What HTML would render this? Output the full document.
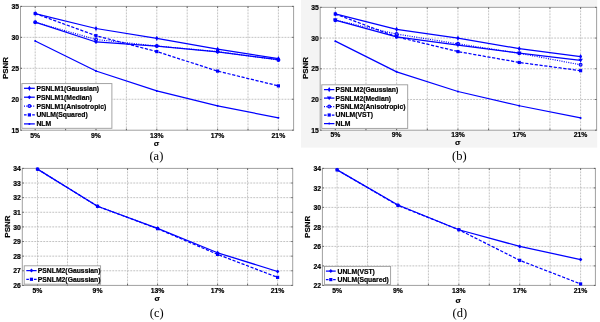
<!DOCTYPE html>
<html><head><meta charset="utf-8"><style>
html,body{margin:0;padding:0;background:#fff;}
body{width:600px;height:322px;overflow:hidden;}
svg{display:block;will-change:transform;}
text{font-family:"Liberation Sans",sans-serif;font-weight:bold;fill:#000;stroke:#000;stroke-width:0.2px;}
.tk{font-size:6.8px;}
.lg{font-size:6.8px;}
.yl{font-size:8px;}
.sg{font-size:8px;}
.cp{font-family:"Liberation Serif",serif;font-weight:normal;font-size:12.5px;fill:#000;stroke:none;}
</style></head><body>
<svg width="600" height="322" viewBox="0 0 600 322">
<rect width="600" height="322" fill="#fff"/>
<rect x="20.5" y="6.4" width="273.1" height="123.8" fill="#fff"/>
<path d="M35.2 6.4V130.2M65.6 6.4V130.2M96 6.4V130.2M126.4 6.4V130.2M156.8 6.4V130.2M187.2 6.4V130.2M217.6 6.4V130.2M248 6.4V130.2M278.4 6.4V130.2M20.5 99.25H293.6M20.5 68.3H293.6M20.5 37.35H293.6" stroke="#bcbcbc" stroke-width="0.9" stroke-dasharray="1.9 1.1" fill="none"/>
<rect x="20.5" y="6.4" width="273.1" height="123.8" fill="none" stroke="#a0a0a0" stroke-width="1"/>
<path d="M35.2 130.2v-1.5M35.2 6.4v1.5M65.6 130.2v-1.5M65.6 6.4v1.5M96 130.2v-1.5M96 6.4v1.5M126.4 130.2v-1.5M126.4 6.4v1.5M156.8 130.2v-1.5M156.8 6.4v1.5M187.2 130.2v-1.5M187.2 6.4v1.5M217.6 130.2v-1.5M217.6 6.4v1.5M248 130.2v-1.5M248 6.4v1.5M278.4 130.2v-1.5M278.4 6.4v1.5M20.5 130.2h1.5M293.6 130.2h-1.5M20.5 99.25h1.5M293.6 99.25h-1.5M20.5 68.3h1.5M293.6 68.3h-1.5M20.5 37.35h1.5M293.6 37.35h-1.5M20.5 6.4h1.5M293.6 6.4h-1.5" stroke="#555" stroke-width="0.9" fill="none"/>
<path d="M35.2 13.52L96 28.5L156.8 38.34L217.6 49.23L278.4 58.71" stroke="#0000ff" stroke-width="1.25" fill="none" stroke-linejoin="round"/>
<path d="M35.2 10.92L36.7 13.52L35.2 16.12L33.7 13.52Z" fill="#0000ff"/>
<path d="M96 25.9L97.5 28.5L96 31.1L94.5 28.5Z" fill="#0000ff"/>
<path d="M156.8 35.74L158.3 38.34L156.8 40.94L155.3 38.34Z" fill="#0000ff"/>
<path d="M217.6 46.63L219.1 49.23L217.6 51.83L216.1 49.23Z" fill="#0000ff"/>
<path d="M278.4 56.11L279.9 58.71L278.4 61.31L276.9 58.71Z" fill="#0000ff"/>
<path d="M35.2 22.18L96 41.99L156.8 46.02L217.6 51.9L278.4 59.63" stroke="#0000ff" stroke-width="1.25" fill="none" stroke-linejoin="round"/>
<path d="M35.2 20.18L37 22.18L35.2 24.18L33.4 22.18Z" fill="#0000ff"/>
<path d="M96 39.99L97.8 41.99L96 43.99L94.2 41.99Z" fill="#0000ff"/>
<path d="M156.8 44.02L158.6 46.02L156.8 48.02L155 46.02Z" fill="#0000ff"/>
<path d="M217.6 49.9L219.4 51.9L217.6 53.9L215.8 51.9Z" fill="#0000ff"/>
<path d="M278.4 57.63L280.2 59.63L278.4 61.63L276.6 59.63Z" fill="#0000ff"/>
<path d="M35.2 22.18L96 39.52L156.8 46.02L217.6 51.59L278.4 59.94" stroke="#0000ff" stroke-width="1.2" fill="none" stroke-linejoin="round" stroke-dasharray="1 1.3"/>
<circle cx="35.2" cy="22.18" r="1.4" fill="none" stroke="#0000ff" stroke-width="1.2"/>
<circle cx="96" cy="39.52" r="1.4" fill="none" stroke="#0000ff" stroke-width="1.2"/>
<circle cx="156.8" cy="46.02" r="1.4" fill="none" stroke="#0000ff" stroke-width="1.2"/>
<circle cx="217.6" cy="51.59" r="1.4" fill="none" stroke="#0000ff" stroke-width="1.2"/>
<circle cx="278.4" cy="59.94" r="1.4" fill="none" stroke="#0000ff" stroke-width="1.2"/>
<path d="M35.2 13.52L96 35.68L156.8 51.59L217.6 71.09L278.4 85.88" stroke="#0000ff" stroke-width="1.25" fill="none" stroke-linejoin="round" stroke-dasharray="3.2 1.6"/>
<rect x="33.6" y="11.92" width="3.2" height="3.2" fill="#0000ff"/>
<rect x="94.4" y="34.08" width="3.2" height="3.2" fill="#0000ff"/>
<rect x="155.2" y="49.99" width="3.2" height="3.2" fill="#0000ff"/>
<rect x="216" y="69.49" width="3.2" height="3.2" fill="#0000ff"/>
<rect x="276.8" y="84.28" width="3.2" height="3.2" fill="#0000ff"/>
<path d="M35.2 40.94L96 71.02L156.8 90.96L217.6 105.87L278.4 117.82" stroke="#0000ff" stroke-width="1.25" fill="none" stroke-linejoin="round"/>
<circle cx="35.2" cy="40.94" r="1" fill="#0000ff"/>
<circle cx="96" cy="71.02" r="1" fill="#0000ff"/>
<circle cx="156.8" cy="90.96" r="1" fill="#0000ff"/>
<circle cx="217.6" cy="105.87" r="1" fill="#0000ff"/>
<circle cx="278.4" cy="117.82" r="1" fill="#0000ff"/>
<text x="19.1" y="132.85" text-anchor="end" class="tk">15</text>
<text x="19.1" y="101.9" text-anchor="end" class="tk">20</text>
<text x="19.1" y="70.95" text-anchor="end" class="tk">25</text>
<text x="19.1" y="40" text-anchor="end" class="tk">30</text>
<text x="19.1" y="9.05" text-anchor="end" class="tk">35</text>
<text x="35.2" y="138.2" text-anchor="middle" class="tk">5%</text>
<text x="96" y="138.2" text-anchor="middle" class="tk">9%</text>
<text x="156.8" y="138.2" text-anchor="middle" class="tk">13%</text>
<text x="217.6" y="138.2" text-anchor="middle" class="tk">17%</text>
<text x="278.4" y="138.2" text-anchor="middle" class="tk">21%</text>
<text transform="translate(8 68) rotate(-90)" text-anchor="middle" class="yl">PSNR</text>
<text x="156.4" y="146" text-anchor="middle" class="sg">&#963;</text>
<text x="156.4" y="160" text-anchor="middle" class="cp">(a)</text>
<rect x="21.9" y="83.6" width="90" height="44.7" fill="#fff" stroke="#9a9a9a" stroke-width="0.9"/>
<path d="M24 88.3H34.8" stroke="#0000ff" stroke-width="1.25" fill="none"/>
<path d="M29.4 85.7L30.9 88.3L29.4 90.9L27.9 88.3Z" fill="#0000ff"/>
<text x="36.4" y="90.7" class="lg">PSNLM1(Gaussian)</text>
<path d="M24 97.2H34.8" stroke="#0000ff" stroke-width="1.25" fill="none"/>
<path d="M29.4 95.2L31.2 97.2L29.4 99.2L27.6 97.2Z" fill="#0000ff"/>
<text x="36.4" y="99.6" class="lg">PSNLM1(Median)</text>
<path d="M24 106.1H34.8" stroke="#0000ff" stroke-width="1.2" fill="none" stroke-dasharray="1 1.3"/>
<circle cx="29.4" cy="106.1" r="1.4" fill="none" stroke="#0000ff" stroke-width="1.2"/>
<text x="36.4" y="108.5" class="lg">PSNLM1(Anisotropic)</text>
<path d="M24 114.9H26.6M32.2 114.9H34.8" stroke="#0000ff" stroke-width="1.25" fill="none"/>
<rect x="27.8" y="113.3" width="3.2" height="3.2" fill="#0000ff"/>
<text x="36.4" y="117.3" class="lg">UNLM(Squared)</text>
<path d="M24 123.9H34.8" stroke="#0000ff" stroke-width="1.25" fill="none"/>
<circle cx="29.4" cy="123.9" r="1" fill="#0000ff"/>
<text x="36.4" y="126.3" class="lg">NLM</text>
<rect x="301" y="0" width="296.2" height="147.6" fill="#f4f4f4"/>
<rect x="320.2" y="7.35" width="276.4" height="122.85" fill="#fff"/>
<path d="M335.3 7.35V130.2M365.96 7.35V130.2M396.62 7.35V130.2M427.29 7.35V130.2M457.95 7.35V130.2M488.61 7.35V130.2M519.28 7.35V130.2M549.94 7.35V130.2M580.6 7.35V130.2M320.2 99.49H596.6M320.2 68.77H596.6M320.2 38.06H596.6" stroke="#bcbcbc" stroke-width="0.9" stroke-dasharray="1.9 1.1" fill="none"/>
<rect x="320.2" y="7.35" width="276.4" height="122.85" fill="none" stroke="#a0a0a0" stroke-width="1"/>
<path d="M335.3 130.2v-1.5M335.3 7.35v1.5M365.96 130.2v-1.5M365.96 7.35v1.5M396.62 130.2v-1.5M396.62 7.35v1.5M427.29 130.2v-1.5M427.29 7.35v1.5M457.95 130.2v-1.5M457.95 7.35v1.5M488.61 130.2v-1.5M488.61 7.35v1.5M519.28 130.2v-1.5M519.28 7.35v1.5M549.94 130.2v-1.5M549.94 7.35v1.5M580.6 130.2v-1.5M580.6 7.35v1.5M320.2 130.2h1.5M596.6 130.2h-1.5M320.2 99.49h1.5M596.6 99.49h-1.5M320.2 68.77h1.5M596.6 68.77h-1.5M320.2 38.06h1.5M596.6 38.06h-1.5M320.2 7.35h1.5M596.6 7.35h-1.5" stroke="#555" stroke-width="0.9" fill="none"/>
<path d="M335.3 13.98L396.62 29.34L457.95 38.19L519.28 48.63L580.6 56.55" stroke="#0000ff" stroke-width="1.25" fill="none" stroke-linejoin="round"/>
<path d="M335.3 11.38L336.8 13.98L335.3 16.58L333.8 13.98Z" fill="#0000ff"/>
<path d="M396.62 26.74L398.12 29.34L396.62 31.94L395.12 29.34Z" fill="#0000ff"/>
<path d="M457.95 35.59L459.45 38.19L457.95 40.79L456.45 38.19Z" fill="#0000ff"/>
<path d="M519.28 46.03L520.78 48.63L519.28 51.23L517.78 48.63Z" fill="#0000ff"/>
<path d="M580.6 53.95L582.1 56.55L580.6 59.15L579.1 56.55Z" fill="#0000ff"/>
<path d="M335.3 20.13L396.62 36.83L457.95 45.06L519.28 53.23L580.6 60.36" stroke="#0000ff" stroke-width="1.25" fill="none" stroke-linejoin="round"/>
<path d="M333 18.53L337.6 18.53L335.3 22.23Z" fill="#0000ff"/>
<path d="M394.32 35.23L398.93 35.23L396.62 38.93Z" fill="#0000ff"/>
<path d="M455.65 43.46L460.25 43.46L457.95 47.16Z" fill="#0000ff"/>
<path d="M516.98 51.63L521.58 51.63L519.28 55.33Z" fill="#0000ff"/>
<path d="M578.3 58.76L582.9 58.76L580.6 62.46Z" fill="#0000ff"/>
<path d="M335.3 20.13L396.62 34.07L457.95 43.84L519.28 53.23L580.6 64.78" stroke="#0000ff" stroke-width="1.2" fill="none" stroke-linejoin="round" stroke-dasharray="1 1.3"/>
<circle cx="335.3" cy="20.13" r="1.4" fill="none" stroke="#0000ff" stroke-width="1.2"/>
<circle cx="396.62" cy="34.07" r="1.4" fill="none" stroke="#0000ff" stroke-width="1.2"/>
<circle cx="457.95" cy="43.84" r="1.4" fill="none" stroke="#0000ff" stroke-width="1.2"/>
<circle cx="519.28" cy="53.23" r="1.4" fill="none" stroke="#0000ff" stroke-width="1.2"/>
<circle cx="580.6" cy="64.78" r="1.4" fill="none" stroke="#0000ff" stroke-width="1.2"/>
<path d="M335.3 13.98L396.62 36.83L457.95 51.58L519.28 62.45L580.6 70.68" stroke="#0000ff" stroke-width="1.25" fill="none" stroke-linejoin="round" stroke-dasharray="3.2 1.6"/>
<rect x="333.7" y="12.38" width="3.2" height="3.2" fill="#0000ff"/>
<rect x="395.02" y="35.23" width="3.2" height="3.2" fill="#0000ff"/>
<rect x="456.35" y="49.98" width="3.2" height="3.2" fill="#0000ff"/>
<rect x="517.68" y="60.85" width="3.2" height="3.2" fill="#0000ff"/>
<rect x="579" y="69.08" width="3.2" height="3.2" fill="#0000ff"/>
<path d="M335.3 41.13L396.62 71.85L457.95 91.5L519.28 105.75L580.6 117.91" stroke="#0000ff" stroke-width="1.25" fill="none" stroke-linejoin="round"/>
<circle cx="335.3" cy="41.13" r="1" fill="#0000ff"/>
<circle cx="396.62" cy="71.85" r="1" fill="#0000ff"/>
<circle cx="457.95" cy="91.5" r="1" fill="#0000ff"/>
<circle cx="519.28" cy="105.75" r="1" fill="#0000ff"/>
<circle cx="580.6" cy="117.91" r="1" fill="#0000ff"/>
<text x="318.8" y="132.85" text-anchor="end" class="tk">15</text>
<text x="318.8" y="102.14" text-anchor="end" class="tk">20</text>
<text x="318.8" y="71.42" text-anchor="end" class="tk">25</text>
<text x="318.8" y="40.71" text-anchor="end" class="tk">30</text>
<text x="318.8" y="10" text-anchor="end" class="tk">35</text>
<text x="335.3" y="137" text-anchor="middle" class="tk">5%</text>
<text x="396.62" y="137" text-anchor="middle" class="tk">9%</text>
<text x="457.95" y="137" text-anchor="middle" class="tk">13%</text>
<text x="519.28" y="137" text-anchor="middle" class="tk">17%</text>
<text x="580.6" y="137" text-anchor="middle" class="tk">21%</text>
<text transform="translate(307.8 68) rotate(-90)" text-anchor="middle" class="yl">PSNR</text>
<text x="457.8" y="145.4" text-anchor="middle" class="sg">&#963;</text>
<text x="459.4" y="160" text-anchor="middle" class="cp">(b)</text>
<rect x="321.8" y="84.8" width="85.9" height="43.6" fill="#fff" stroke="#9a9a9a" stroke-width="0.9"/>
<path d="M324 89.6H334.4" stroke="#0000ff" stroke-width="1.25" fill="none"/>
<path d="M329.2 87L330.7 89.6L329.2 92.2L327.7 89.6Z" fill="#0000ff"/>
<text x="335.6" y="92" class="lg">PSNLM2(Gaussian)</text>
<path d="M324 98.1H334.4" stroke="#0000ff" stroke-width="1.25" fill="none"/>
<path d="M326.9 96.5L331.5 96.5L329.2 100.2Z" fill="#0000ff"/>
<text x="335.6" y="100.5" class="lg">PSNLM2(Median)</text>
<path d="M324 106.6H334.4" stroke="#0000ff" stroke-width="1.2" fill="none" stroke-dasharray="1 1.3"/>
<circle cx="329.2" cy="106.6" r="1.4" fill="none" stroke="#0000ff" stroke-width="1.2"/>
<text x="335.6" y="109" class="lg">PSNLM2(Anisotropic)</text>
<path d="M324 115H326.6M331.8 115H334.4" stroke="#0000ff" stroke-width="1.25" fill="none"/>
<rect x="327.6" y="113.4" width="3.2" height="3.2" fill="#0000ff"/>
<text x="335.6" y="117.4" class="lg">UNLM(VST)</text>
<path d="M324 123.6H334.4" stroke="#0000ff" stroke-width="1.25" fill="none"/>
<circle cx="329.2" cy="123.6" r="1" fill="#0000ff"/>
<text x="335.6" y="126" class="lg">NLM</text>
<rect x="22.3" y="168.4" width="270.4" height="117" fill="#fff"/>
<path d="M37.5 168.4V285.4M67.51 168.4V285.4M97.53 168.4V285.4M127.54 168.4V285.4M157.55 168.4V285.4M187.56 168.4V285.4M217.58 168.4V285.4M247.59 168.4V285.4M277.6 168.4V285.4M22.3 270.77H292.7M22.3 256.15H292.7M22.3 241.52H292.7M22.3 226.9H292.7M22.3 212.27H292.7M22.3 197.65H292.7M22.3 183.03H292.7" stroke="#bcbcbc" stroke-width="0.9" stroke-dasharray="1.9 1.1" fill="none"/>
<rect x="22.3" y="168.4" width="270.4" height="117" fill="none" stroke="#a0a0a0" stroke-width="1"/>
<path d="M37.5 285.4v-1.5M37.5 168.4v1.5M67.51 285.4v-1.5M67.51 168.4v1.5M97.53 285.4v-1.5M97.53 168.4v1.5M127.54 285.4v-1.5M127.54 168.4v1.5M157.55 285.4v-1.5M157.55 168.4v1.5M187.56 285.4v-1.5M187.56 168.4v1.5M217.58 285.4v-1.5M217.58 168.4v1.5M247.59 285.4v-1.5M247.59 168.4v1.5M277.6 285.4v-1.5M277.6 168.4v1.5M22.3 285.4h1.5M292.7 285.4h-1.5M22.3 270.77h1.5M292.7 270.77h-1.5M22.3 256.15h1.5M292.7 256.15h-1.5M22.3 241.52h1.5M292.7 241.52h-1.5M22.3 226.9h1.5M292.7 226.9h-1.5M22.3 212.27h1.5M292.7 212.27h-1.5M22.3 197.65h1.5M292.7 197.65h-1.5M22.3 183.03h1.5M292.7 183.03h-1.5M22.3 168.4h1.5M292.7 168.4h-1.5" stroke="#555" stroke-width="0.9" fill="none"/>
<path d="M37.5 169.13L97.53 206.28L157.55 228.36L217.58 252.79L277.6 271.51" stroke="#0000ff" stroke-width="1.25" fill="none" stroke-linejoin="round"/>
<path d="M37.5 167.13L39.3 169.13L37.5 171.13L35.7 169.13Z" fill="#0000ff"/>
<path d="M97.53 204.28L99.33 206.28L97.53 208.28L95.73 206.28Z" fill="#0000ff"/>
<path d="M157.55 226.36L159.35 228.36L157.55 230.36L155.75 228.36Z" fill="#0000ff"/>
<path d="M217.58 250.79L219.38 252.79L217.58 254.79L215.78 252.79Z" fill="#0000ff"/>
<path d="M277.6 269.51L279.4 271.51L277.6 273.51L275.8 271.51Z" fill="#0000ff"/>
<path d="M37.5 169.13L97.53 206.28L157.55 228.66L217.58 254.39L277.6 277.36" stroke="#0000ff" stroke-width="1.25" fill="none" stroke-linejoin="round" stroke-dasharray="3.2 1.6"/>
<rect x="35.9" y="167.53" width="3.2" height="3.2" fill="#0000ff"/>
<rect x="95.93" y="204.68" width="3.2" height="3.2" fill="#0000ff"/>
<rect x="155.95" y="227.06" width="3.2" height="3.2" fill="#0000ff"/>
<rect x="215.98" y="252.79" width="3.2" height="3.2" fill="#0000ff"/>
<rect x="276" y="275.76" width="3.2" height="3.2" fill="#0000ff"/>
<text x="20.9" y="288.05" text-anchor="end" class="tk">26</text>
<text x="20.9" y="273.42" text-anchor="end" class="tk">27</text>
<text x="20.9" y="258.8" text-anchor="end" class="tk">28</text>
<text x="20.9" y="244.17" text-anchor="end" class="tk">29</text>
<text x="20.9" y="229.55" text-anchor="end" class="tk">30</text>
<text x="20.9" y="214.92" text-anchor="end" class="tk">31</text>
<text x="20.9" y="200.3" text-anchor="end" class="tk">32</text>
<text x="20.9" y="185.68" text-anchor="end" class="tk">33</text>
<text x="20.9" y="171.05" text-anchor="end" class="tk">34</text>
<text x="37.5" y="293" text-anchor="middle" class="tk">5%</text>
<text x="97.53" y="293" text-anchor="middle" class="tk">9%</text>
<text x="157.55" y="293" text-anchor="middle" class="tk">13%</text>
<text x="217.58" y="293" text-anchor="middle" class="tk">17%</text>
<text x="277.6" y="293" text-anchor="middle" class="tk">21%</text>
<text transform="translate(10.4 226.6) rotate(-90)" text-anchor="middle" class="yl">PSNR</text>
<text x="157.3" y="300.9" text-anchor="middle" class="sg">&#963;</text>
<text x="156.8" y="317" text-anchor="middle" class="cp">(c)</text>
<rect x="24.2" y="265.8" width="76.4" height="18.4" fill="#fff" stroke="#9a9a9a" stroke-width="0.9"/>
<path d="M26.3 270.6H36.6" stroke="#0000ff" stroke-width="1.25" fill="none"/>
<path d="M31.45 268.6L33.25 270.6L31.45 272.6L29.65 270.6Z" fill="#0000ff"/>
<text x="37.8" y="273" class="lg">PSNLM2(Gaussian)</text>
<path d="M26.3 279.3H28.9M34 279.3H36.6" stroke="#0000ff" stroke-width="1.25" fill="none"/>
<rect x="29.85" y="277.7" width="3.2" height="3.2" fill="#0000ff"/>
<text x="37.8" y="281.7" class="lg">PSNLM2(Gaussian)</text>
<rect x="322.4" y="168.4" width="273" height="117" fill="#fff"/>
<path d="M337.1 168.4V285.4M367.54 168.4V285.4M397.98 168.4V285.4M428.41 168.4V285.4M458.85 168.4V285.4M489.29 168.4V285.4M519.73 168.4V285.4M550.16 168.4V285.4M580.6 168.4V285.4M322.4 265.9H595.4M322.4 246.4H595.4M322.4 226.9H595.4M322.4 207.4H595.4M322.4 187.9H595.4" stroke="#bcbcbc" stroke-width="0.9" stroke-dasharray="1.9 1.1" fill="none"/>
<rect x="322.4" y="168.4" width="273" height="117" fill="none" stroke="#a0a0a0" stroke-width="1"/>
<path d="M337.1 285.4v-1.5M337.1 168.4v1.5M367.54 285.4v-1.5M367.54 168.4v1.5M397.98 285.4v-1.5M397.98 168.4v1.5M428.41 285.4v-1.5M428.41 168.4v1.5M458.85 285.4v-1.5M458.85 168.4v1.5M489.29 285.4v-1.5M489.29 168.4v1.5M519.73 285.4v-1.5M519.73 168.4v1.5M550.16 285.4v-1.5M550.16 168.4v1.5M580.6 285.4v-1.5M580.6 168.4v1.5M322.4 285.4h1.5M595.4 285.4h-1.5M322.4 265.9h1.5M595.4 265.9h-1.5M322.4 246.4h1.5M595.4 246.4h-1.5M322.4 226.9h1.5M595.4 226.9h-1.5M322.4 207.4h1.5M595.4 207.4h-1.5M322.4 187.9h1.5M595.4 187.9h-1.5M322.4 168.4h1.5M595.4 168.4h-1.5" stroke="#555" stroke-width="0.9" fill="none"/>
<path d="M337.1 169.86L397.98 204.96L458.85 229.73L519.73 246.4L580.6 259.56" stroke="#0000ff" stroke-width="1.25" fill="none" stroke-linejoin="round"/>
<path d="M337.1 167.86L338.9 169.86L337.1 171.86L335.3 169.86Z" fill="#0000ff"/>
<path d="M397.98 202.96L399.78 204.96L397.98 206.96L396.18 204.96Z" fill="#0000ff"/>
<path d="M458.85 227.73L460.65 229.73L458.85 231.73L457.05 229.73Z" fill="#0000ff"/>
<path d="M519.73 244.4L521.52 246.4L519.73 248.4L517.93 246.4Z" fill="#0000ff"/>
<path d="M580.6 257.56L582.4 259.56L580.6 261.56L578.8 259.56Z" fill="#0000ff"/>
<path d="M337.1 169.86L397.98 205.45L458.85 229.73L519.73 260.34L580.6 283.94" stroke="#0000ff" stroke-width="1.25" fill="none" stroke-linejoin="round" stroke-dasharray="3.2 1.6"/>
<rect x="335.5" y="168.26" width="3.2" height="3.2" fill="#0000ff"/>
<rect x="396.38" y="203.85" width="3.2" height="3.2" fill="#0000ff"/>
<rect x="457.25" y="228.13" width="3.2" height="3.2" fill="#0000ff"/>
<rect x="518.12" y="258.74" width="3.2" height="3.2" fill="#0000ff"/>
<rect x="579" y="282.34" width="3.2" height="3.2" fill="#0000ff"/>
<text x="321" y="288.05" text-anchor="end" class="tk">22</text>
<text x="321" y="268.55" text-anchor="end" class="tk">24</text>
<text x="321" y="249.05" text-anchor="end" class="tk">26</text>
<text x="321" y="229.55" text-anchor="end" class="tk">28</text>
<text x="321" y="210.05" text-anchor="end" class="tk">30</text>
<text x="321" y="190.55" text-anchor="end" class="tk">32</text>
<text x="321" y="171.05" text-anchor="end" class="tk">34</text>
<text x="337.1" y="293.2" text-anchor="middle" class="tk">5%</text>
<text x="397.98" y="293.2" text-anchor="middle" class="tk">9%</text>
<text x="458.85" y="293.2" text-anchor="middle" class="tk">13%</text>
<text x="519.73" y="293.2" text-anchor="middle" class="tk">17%</text>
<text x="580.6" y="293.2" text-anchor="middle" class="tk">21%</text>
<text transform="translate(309.8 226.8) rotate(-90)" text-anchor="middle" class="yl">PSNR</text>
<text x="458.3" y="303" text-anchor="middle" class="sg">&#963;</text>
<text x="459.9" y="317" text-anchor="middle" class="cp">(d)</text>
<rect x="324.5" y="266.4" width="66.1" height="18" fill="#fff" stroke="#9a9a9a" stroke-width="0.9"/>
<path d="M325.9 271.1H335.7" stroke="#0000ff" stroke-width="1.25" fill="none"/>
<path d="M330.8 269.1L332.6 271.1L330.8 273.1L329 271.1Z" fill="#0000ff"/>
<text x="337.5" y="273.5" class="lg">UNLM(VST)</text>
<path d="M325.9 279.6H328.5M333.1 279.6H335.7" stroke="#0000ff" stroke-width="1.25" fill="none"/>
<rect x="329.2" y="278" width="3.2" height="3.2" fill="#0000ff"/>
<text x="337.5" y="282" class="lg">UNLM(Squared)</text>
</svg>
</body></html>
